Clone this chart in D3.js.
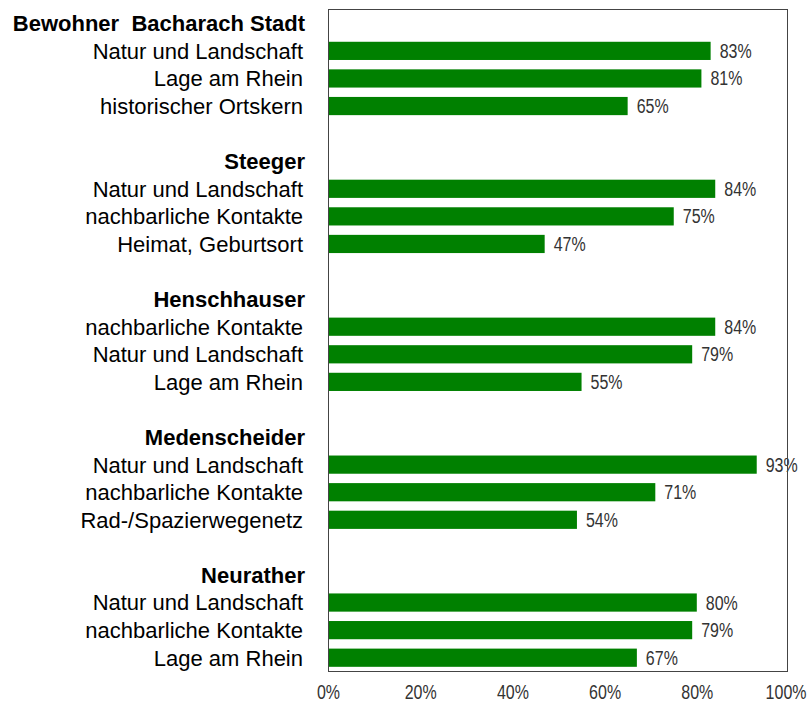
<!DOCTYPE html>
<html>
<head>
<meta charset="utf-8">
<script src="https://cdn.jsdelivr.net/npm/d3@7"></script>
<style>
  body { margin: 0; background: #fff; }
  svg { display: block; }
  .cat { font-family: "Liberation Sans", Arial, sans-serif; font-size: 22px; fill: #000; }
  .grp { font-weight: bold; }
  .num { font-family: "Liberation Sans", Arial, sans-serif; font-size: 19.5px; fill: #333; }
</style>
</head>
<body>
<div id="chart"></div>
<script>
'use strict';

var groups = ['Bewohner\u00a0 Bacharach Stadt', 'Steeger', 'Henschhauser', 'Medenscheider', 'Neurather'];

var categories = [
    ['Natur und Landschaft', 'Lage am Rhein', 'historischer Ortskern'],
    ['Natur und Landschaft', 'nachbarliche Kontakte', 'Heimat, Geburtsort'],
    ['nachbarliche Kontakte', 'Natur und Landschaft', 'Lage am Rhein'],
    ['Natur und Landschaft', 'nachbarliche Kontakte', 'Rad-/Spazierwegenetz'],
    ['Natur und Landschaft', 'nachbarliche Kontakte', 'Lage am Rhein']
];

var values = [
    [83, 81, 65],
    [84, 75, 47],
    [84, 79, 55],
    [93, 71, 54],
    [80, 79, 67]
];

var ticks = [0, 20, 40, 60, 80, 100];

var width = 807;
var height = 702;
var narrow = 0.82; // squeeze for the condensed number font

// one row per header, bar and spacer
var rows = [];
groups.forEach(function(g, gi) {
    rows.push({ type: 'group', label: g, id: 'g' + gi });
    categories[gi].forEach(function(c, ci) {
        rows.push({ type: 'bar', label: c, value: values[gi][ci], id: 'b' + gi + '_' + ci });
    });
    if (gi < groups.length - 1) {
        rows.push({ type: 'gap', label: '', id: 's' + gi });
    }
});

var plot = { left: 328, right: 788, top: 9.5, bottom: 671.5 };

var x = d3.scaleLinear()
    .domain([0, 100])
    .range([plot.left, plot.right + 1]);

var y = d3.scaleBand()
    .domain(rows.map(function(d) { return d.id; }))
    .range([plot.top, plot.bottom])
    .paddingInner(0.34)
    .paddingOuter(0.17);

var rowMid = function(d) {
    return y(d.id) + y.bandwidth() / 2;
};

var svg = d3.select('#chart')
    .append('svg')
    .attr('width', width)
    .attr('height', height);

var bars = rows.filter(function(d) { return d.type === 'bar'; });

svg.selectAll('.bar')
    .data(bars)
    .enter()
    .append('rect')
    .attr('class', 'bar')
    .attr('x', x(0))
    .attr('y', function(d) { return y(d.id); })
    .attr('width', function(d) { return x(d.value) - x(0); })
    .attr('height', y.bandwidth())
    .style('fill', '#008000');

svg.selectAll('.num.val')
    .data(bars)
    .enter()
    .append('text')
    .attr('class', 'num val')
    .attr('transform', function(d) {
        return 'translate(' + (x(d.value) + 9) + ',' + rowMid(d) + ') scale(' + narrow + ',1)';
    })
    .attr('dy', '0.36em')
    .text(function(d) { return d.value + '%'; });

svg.selectAll('.cat')
    .data(rows.filter(function(d) { return d.type !== 'gap'; }))
    .enter()
    .append('text')
    .attr('class', function(d) { return d.type === 'group' ? 'cat grp' : 'cat'; })
    .attr('x', function(d) { return d.type === 'group' ? 305 : 303; })
    .attr('y', rowMid)
    .attr('dy', '0.36em')
    .attr('text-anchor', 'end')
    .text(function(d) { return d.label; });

// plot frame, drawn over the bars and labels
svg.append('rect')
    .attr('x', plot.left + 0.5)
    .attr('y', plot.top)
    .attr('width', plot.right - plot.left - 1)
    .attr('height', plot.bottom - plot.top)
    .style('fill', 'none')
    .style('stroke', '#444')
    .style('stroke-width', 1);

var xAxis = d3.axisBottom(x)
    .tickValues(ticks)
    .tickSize(0)
    .tickPadding(0)
    .tickFormat(function(d) { return d + '%'; });

var axisG = svg.append('g')
    .attr('transform', 'translate(0,699)')
    .call(xAxis);

axisG.select('.domain').remove();
axisG.selectAll('text')
    .attr('class', 'num')
    .attr('fill', null)
    .attr('font-size', null)
    .attr('font-family', null)
    .attr('y', 0)
    .attr('dy', 0)
    .attr('transform', 'scale(' + narrow + ',1)');

// keep the last label inside the page edge
axisG.selectAll('text')
    .filter(function(d) { return d === 100; })
    .attr('text-anchor', 'end')
    .attr('x', (width - 1 - x(100)) / narrow);
</script>
</body>
</html>
